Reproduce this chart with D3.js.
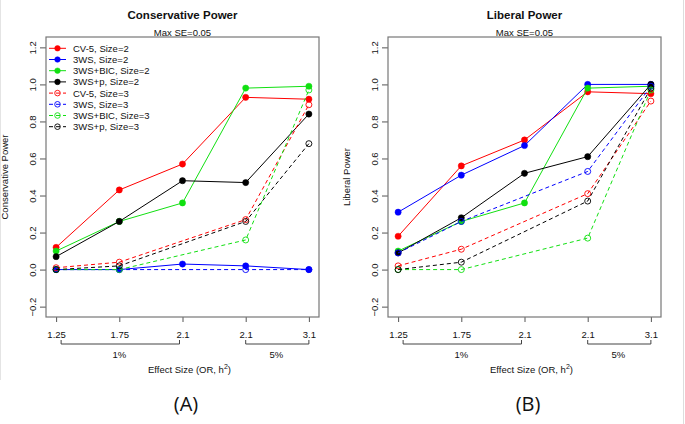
<!DOCTYPE html>
<html><head><meta charset="utf-8">
<script src="https://cdn.jsdelivr.net/npm/d3@7/dist/d3.min.js"></script>
<style>body{margin:0;background:#fff}svg{display:block}text{font-family:"Liberation Sans",Arial,sans-serif;fill:#111}</style>
</head><body>
<script>
const categories = ["1.25","1.75","2.1","2.1","3.1"];
const groupLabels = ["1%","5%"];
const groupSpans = [[0,2],[3,4]];
const seriesNames = ["CV-5, Size=2","3WS, Size=2","3WS+BIC, Size=2","3WS+p, Size=2","CV-5, Size=3","3WS, Size=3","3WS+BIC, Size=3","3WS+p, Size=3"];
const seriesColors = ["#ff0000","#0000ff","#11e011","#000000","#ff0000","#0000ff","#11e011","#000000"];
const seriesDashed = [false,false,false,false,true,true,true,true];
const yTicks = [-0.2,0,0.2,0.4,0.6,0.8,1.0,1.2];

const conservative = [
  [0.12,0.43,0.57,0.93,0.92],
  [0.00,0.00,0.03,0.02,0.00],
  [0.10,0.26,0.36,0.98,0.99],
  [0.07,0.26,0.48,0.47,0.84],
  [0.01,0.04,null,0.27,0.89],
  [0.00,0.00,null,0.00,0.00],
  [0.00,0.00,null,0.16,0.97],
  [0.00,0.02,null,0.26,0.68]
];
const liberal = [
  [0.18,0.56,0.70,0.96,0.95],
  [0.31,0.51,0.67,1.00,1.00],
  [0.10,0.26,0.36,0.98,0.99],
  [0.09,0.28,0.52,0.61,1.00],
  [0.02,0.11,null,0.41,0.91],
  [0.09,0.26,null,0.53,0.99],
  [0.00,0.00,null,0.17,0.97],
  [0.00,0.04,null,0.37,0.98]
];

const W=685,H=424;
const svg=d3.select("body").append("svg").attr("width",W).attr("height",H);

const panels=[
  {title:"Conservative Power", ylab:"Conservative Power", x0:46, x1:319, data:conservative, legend:true, caption:"(A)", capX:186},
  {title:"Liberal Power", ylab:"Liberal Power", x0:388, x1:661, data:liberal, legend:false, caption:"(B)", capX:528}
];
const plotTop=37, plotBot=317;

panels.forEach(p=>{
  const g=svg.append("g");
  const x=d3.scaleLinear().domain([0.84,5.16]).range([p.x0,p.x1]);
  const y=d3.scaleLinear().domain([-0.256,1.256]).range([plotBot,plotTop]);
  const cx=(p.x0+p.x1)/2;

  g.append("text").attr("x",cx).attr("y",19).attr("text-anchor","middle")
    .style("font-weight","bold").style("font-size","11.5px").text(p.title);
  g.append("text").attr("x",cx).attr("y",35.5).attr("text-anchor","middle")
    .style("font-size","9.5px").text("Max SE=0.05");

  // y axis
  const ya=g.append("g").attr("transform",`translate(${p.x0},0)`)
    .call(d3.axisLeft(y).tickValues(yTicks).tickSize(6).tickFormat(d3.format(".1f")));
  ya.select(".domain").remove();
  ya.selectAll("line").attr("stroke","#555");
  ya.selectAll("text").attr("transform","rotate(-90)").attr("x",0).attr("y",-10.5).attr("dy",0)
    .attr("text-anchor","middle").style("font-size","9.5px").style("font-family","Liberation Sans, Arial, sans-serif").attr("fill","#111");

  // x axis
  const xa=g.append("g").attr("transform",`translate(0,${plotBot})`)
    .call(d3.axisBottom(x).tickValues(d3.range(1,6)).tickSize(5).tickFormat((d,i)=>categories[i]));
  xa.select(".domain").remove();
  xa.selectAll("line").attr("stroke","#555");
  xa.selectAll("text").attr("y",20.5).attr("dy",0).style("font-size","9.5px")
    .style("font-family","Liberation Sans, Arial, sans-serif").attr("fill","#111");

  // group brackets
  groupSpans.forEach((s,i)=>{
    const a=x(s[0]+1)+ (i===0?5:0), b=x(s[1]+1)-(i===0?3:0);
    g.append("path").attr("d",`M${a},340V344H${b}V340`).attr("fill","none").attr("stroke","#444").attr("stroke-width",1);
    g.append("text").attr("x",(x(s[0]+1)+x(s[1]+1))/2+ (i===1?-1:0)).attr("y",357.5).attr("text-anchor","middle")
      .style("font-size","9.5px").text(groupLabels[i]);
  });

  const xl=g.append("text").attr("x",cx+7).attr("y",372.5).attr("text-anchor","middle").style("font-size","9.5px");
  xl.append("tspan").text("Effect Size (OR, h");
  xl.append("tspan").attr("dy",-4).style("font-size","7px").text("2");
  xl.append("tspan").attr("dy",4).text(")");

  g.append("text").attr("transform",`translate(${p.x0-38},${(plotTop+plotBot)/2}) rotate(-90)`)
    .attr("text-anchor","middle").style("font-size","9.5px").text(p.ylab);

  // series
  p.data.forEach((vals,si)=>{
    const pts=vals.map((v,i)=>({i:i+1,v})).filter(d=>d.v!==null);
    const line=d3.line().x(d=>x(d.i)).y(d=>y(d.v));
    g.append("path").attr("d",line(pts)).attr("fill","none")
      .attr("stroke",seriesColors[si]).attr("stroke-width",1)
      .attr("stroke-dasharray",seriesDashed[si]?"4,3":null);
    g.selectAll(null).data(pts).enter().append("circle")
      .attr("cx",d=>x(d.i)).attr("cy",d=>y(d.v)).attr("r",seriesDashed[si]?3:3.1)
      .attr("fill",seriesDashed[si]?"none":seriesColors[si])
      .attr("stroke",seriesColors[si]).attr("stroke-width",seriesDashed[si]?0.9:0.5);
  });

  // box
  g.append("rect").attr("x",p.x0).attr("y",plotTop).attr("width",p.x1-p.x0).attr("height",plotBot-plotTop)
    .attr("fill","none").attr("stroke","#777").attr("stroke-width",1.2);

  // legend
  if(p.legend){
    seriesNames.forEach((n,si)=>{
      const ly=48.3+si*11.2;
      g.append("line").attr("x1",49).attr("x2",66).attr("y1",ly).attr("y2",ly)
        .attr("stroke",seriesColors[si]).attr("stroke-width",1)
        .attr("stroke-dasharray",seriesDashed[si]?"4,3":null);
      g.append("circle").attr("cx",57.5).attr("cy",ly).attr("r",2.8)
        .attr("fill",seriesDashed[si]?"none":seriesColors[si]).attr("stroke",seriesColors[si])
        .attr("stroke-width",seriesDashed[si]?0.9:0.5);
      g.append("text").attr("x",73).attr("y",ly+3.4).style("font-size","9.5px").text(n);
    });
  }

  g.append("text").attr("x",p.capX).attr("y",411).attr("text-anchor","middle")
    .style("font-size","20px").style("font-family","Open Sans, Liberation Sans, sans-serif").text(p.caption);
});
svg.append("line").attr("x1",683.5).attr("x2",683.5).attr("y1",0).attr("y2",H).attr("stroke","#ddd");
svg.append("line").attr("x1",0.5).attr("x2",0.5).attr("y1",0).attr("y2",380).attr("stroke","#e4e4e4");
</script>
</body></html>
